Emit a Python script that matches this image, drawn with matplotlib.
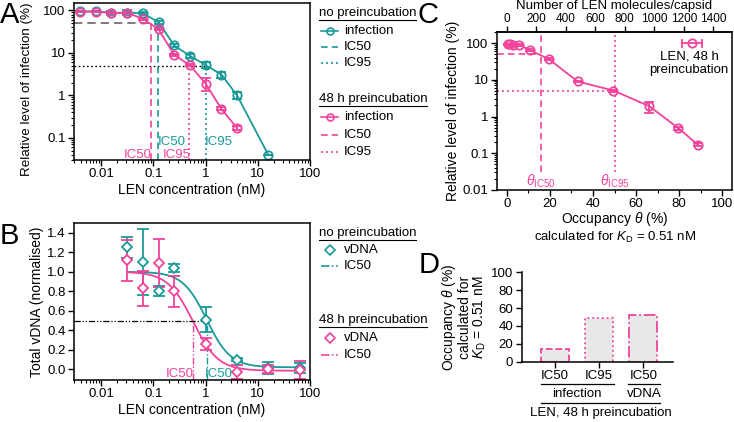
import matplotlib
matplotlib.use('Agg')
import matplotlib.pyplot as plt
import numpy as np
from matplotlib.ticker import LogLocator, NullFormatter, MultipleLocator
import matplotlib.transforms as mtrans

plt.rcParams['font.family'] = ['Liberation Sans', 'DejaVu Sans']
plt.rcParams['mathtext.fontset'] = 'custom'
plt.rcParams['mathtext.rm'] = 'Liberation Sans'
plt.rcParams['mathtext.it'] = 'Liberation Sans:italic'
plt.rcParams['font.size'] = 9.5
plt.rcParams['axes.linewidth'] = 1.1

teal = '#1a9a9a'
pink = '#f2439b'
FS = 9.5      # ticks / legends
FL = 10       # axis labels

# ---- A: infection vs LEN concentration
conc_none = [0.0039, 0.0078, 0.0156, 0.03125, 0.0625, 0.125, 0.25, 0.5, 1, 2, 4, 16]
inf_none = [95, 95, 88, 89, 86, 53, 15, 8.5, 5.2, 3.1, 1.0, 0.039]
inf_none_err = [4, 4, 9, 11, 5, 5, 1.5, 1.0, 0.8, 0.5, 0.2, 0.0]
conc_pre = [0.0039, 0.0078, 0.0156, 0.03125, 0.0625, 0.125, 0.25, 0.5, 1, 2, 4]
inf_pre = [94, 94, 87, 88, 64, 36, 9, 5.1, 1.9, 0.48, 0.17]
inf_pre_err = [3, 3, 4, 4, 3, 2, 0.5, 0.3, 0.65, 0.04, 0.015]
ic50_none, ic95_none = 0.122, 1.0
ic50_pre, ic95_pre = 0.091, 0.485

# ---- B: total vDNA
conc_vdna = [0.03125, 0.0625, 0.125, 0.25, 1, 4, 16, 64]
vdna_none = [1.25, 1.10, 0.80, 1.04, 0.51, 0.10, 0.01, 0.01]
vdna_none_err = [0.11, 0.34, 0.05, 0.04, 0.13, 0.02, 0.06, 0.05]
vdna_pre = [1.12, 0.83, 1.09, 0.80, 0.26, -0.03, 0.0, -0.01]
vdna_pre_err = [0.21, 0.18, 0.25, 0.16, 0.06, 0.07, 0.04, 0.09]
# fitted dose-response parameters (top, bottom, IC50, hill)
fit_none = (1.0, 0.02, 1.045, 1.9)
fit_pre = (1.0, -0.015, 0.57, 1.8)

# ---- C: occupancy
KD = 0.51
capsid_sites = 1460
theta_ic50, theta_ic95 = 15.7, 50.3

# ---- D: occupancy at ICs
d_labels = ['IC50', 'IC95', 'IC50']
d_values = [14, 48.5, 52]
d_styles = ['--', ':', '-.']

W, H = 734, 422
fig = plt.figure(figsize=(W / 100, H / 100), dpi=100)


def px_axes(x0, y0, x1, y1):
    return fig.add_axes([x0 / W, 1 - y1 / H, (x1 - x0) / W, (y1 - y0) / H])


def log_ticks(ax, axis='both'):
    if axis in ('x', 'both'):
        ax.xaxis.set_major_locator(LogLocator(base=10, numticks=20))
        ax.xaxis.set_minor_locator(LogLocator(base=10, subs=np.arange(2, 10), numticks=20))
        ax.xaxis.set_minor_formatter(NullFormatter())
    if axis in ('y', 'both'):
        ax.yaxis.set_major_locator(LogLocator(base=10, numticks=20))
        ax.yaxis.set_minor_locator(LogLocator(base=10, subs=np.arange(2, 10), numticks=20))
        ax.yaxis.set_minor_formatter(NullFormatter())


def fmt_num(v, pos=None):
    return ('%g' % v)


def style(ax):
    ax.tick_params(which='major', length=4, width=1.0, direction='out', pad=2, labelsize=FS)
    ax.tick_params(which='minor', length=2.3, width=0.8, direction='out')


# ================= A
axA = px_axes(74, 3, 310, 160)
axA.set_xscale('log')
axA.set_yscale('log')
axA.set_xlim(0.003, 100)
axA.set_ylim(0.03, 150)
log_ticks(axA)
axA.xaxis.set_major_formatter(plt.FuncFormatter(fmt_num))
axA.yaxis.set_major_formatter(plt.FuncFormatter(fmt_num))
axA.set_yticks([0.1, 1, 10, 100])
style(axA)

axA.plot([0.003, ic50_pre], [50, 50], color='#666666', lw=1.2, dashes=(5, 3))
axA.plot([0.003, ic95_none], [5, 5], color='black', lw=1.0, dashes=(1.2, 1.8))
axA.plot([ic50_none, ic50_none], [0.03, 50], color=teal, lw=1.2, dashes=(4, 2.5))
axA.plot([ic95_none, ic95_none], [0.03, 5], color=teal, lw=1.2, dashes=(1.2, 1.8))
axA.plot([ic50_pre, ic50_pre], [0.03, 50], color=pink, lw=1.2, dashes=(4, 2.5))
axA.plot([ic95_pre, ic95_pre], [0.03, 5], color=pink, lw=1.2, dashes=(1.2, 1.8))

for c, v, e, col in [(conc_none, inf_none, inf_none_err, teal), (conc_pre, inf_pre, inf_pre_err, pink)]:
    axA.errorbar(c, v, yerr=e, color=col, lw=1.3, marker='o', ms=6, mfc='none', mew=1.3,
                 capsize=3.5, capthick=1.3, elinewidth=1.3)

axA.text(ic50_none * 1.0, 0.079, 'IC50', color=teal, ha='left', va='center', fontsize=FS)
axA.text(ic95_none * 0.97, 0.079, 'IC95', color=teal, ha='left', va='center', fontsize=FS)
axA.text(ic50_pre * 1.0, 0.040, 'IC50', color=pink, ha='right', va='center', fontsize=FS)
axA.text(ic95_pre * 1.07, 0.040, 'IC95', color=pink, ha='right', va='center', fontsize=FS)
axA.set_xlabel('LEN concentration (nM)', fontsize=FL, labelpad=2)
axA.set_ylabel('Relative level of infection (%)', fontsize=9.6, labelpad=2)
axA.yaxis.set_label_coords(-0.175, 0.45)

# ================= B
axB = px_axes(74, 223, 310, 380)
axB.set_xscale('log')
axB.set_xlim(0.003, 100)
axB.set_ylim(-0.11, 1.5)
log_ticks(axB, 'x')
axB.xaxis.set_major_formatter(plt.FuncFormatter(fmt_num))
axB.set_yticks(np.arange(0, 1.41, 0.2))
axB.yaxis.set_major_formatter(plt.FuncFormatter(lambda v, p: '%.1f' % v))
style(axB)

xfit = np.logspace(np.log10(conc_vdna[0]), np.log10(conc_vdna[-1]), 300)
for p, col in [(fit_none, teal), (fit_pre, pink)]:
    top, bot, ic, h = p
    axB.plot(xfit, bot + (top - bot) / (1 + (xfit / ic) ** h), color=col, lw=1.3)

dd = (5, 1.5, 1, 1.5, 1, 1.5)
axB.plot([0.003, fit_none[2]], [0.5, 0.5], color='black', lw=0.9, dashes=dd)
axB.plot([fit_none[2], fit_none[2]], [-0.11, 0.5], color=teal, lw=1.0, dashes=dd)
axB.plot([fit_pre[2], fit_pre[2]], [-0.11, 0.5], color=pink, lw=1.0, dashes=dd)

for v, e, col in [(vdna_none, vdna_none_err, teal), (vdna_pre, vdna_pre_err, pink)]:
    axB.errorbar(conc_vdna, v, yerr=e, color=col, ls='none', marker='D', ms=5.5, mfc='white',
                 mew=1.3, capsize=4, capthick=1.3, elinewidth=1.3)

axB.text(fit_pre[2] * 1.05, -0.045, 'IC50', color=pink, ha='right', va='center', fontsize=FS)
axB.text(fit_none[2] * 0.93, -0.045, 'IC50', color=teal, ha='left', va='center', fontsize=FS)
axB.set_xlabel('LEN concentration (nM)', fontsize=FL, labelpad=2)
axB.set_ylabel('Total vDNA (normalised)', fontsize=FL, labelpad=2)

# ================= C
axC = px_axes(497, 32, 732, 190)
occupancy = [100 * c / (c + KD) for c in conc_pre]
axC.set_yscale('log')
axC.set_xlim(-4.5, 104.5)
axC.set_ylim(0.01, 200)
log_ticks(axC, 'y')
axC.yaxis.set_major_formatter(plt.FuncFormatter(fmt_num))
axC.set_yticks([0.01, 0.1, 1, 10, 100])
axC.xaxis.set_major_locator(MultipleLocator(20))
axC.xaxis.set_minor_locator(MultipleLocator(10))
style(axC)

axC.plot([-4.5, theta_ic50], [50, 50], color=pink, lw=1.2, dashes=(4, 2.5))
axC.plot([theta_ic50, theta_ic50], [0.03, 200], color=pink, lw=1.2, dashes=(4, 2.5))
axC.plot([-4.5, theta_ic95], [5, 5], color=pink, lw=1.2, dashes=(1.2, 1.8))
axC.plot([theta_ic95, theta_ic95], [0.03, 200], color=pink, lw=1.2, dashes=(1.2, 1.8))
axC.errorbar(occupancy, inf_pre, yerr=inf_pre_err, color=pink, lw=1.3, marker='o', ms=6,
             mfc='none', mew=1.3, capsize=3.5, capthick=1.3, elinewidth=1.3)
axC.text(theta_ic50, 0.017, r'$\theta_{\mathrm{IC50}}$', color=pink, ha='center', va='center', fontsize=10)
axC.text(theta_ic95, 0.017, r'$\theta_{\mathrm{IC95}}$', color=pink, ha='center', va='center', fontsize=10)
axC.set_xlabel(r'Occupancy $\theta$ (%)', fontsize=FL, labelpad=0)
axC.set_ylabel('Relative level of infection (%)', fontsize=FL, labelpad=2)

secC = axC.secondary_xaxis('top', functions=(lambda t: t * capsid_sites / 100,
                                              lambda n: n * 100 / capsid_sites))
secC.set_xticks(np.arange(0, 1401, 200))
secC.tick_params(length=4, width=1.0, pad=1, labelsize=8.5)

# ================= D
axD = px_axes(521.7, 272.3, 673.3, 361.7)
xpos = np.arange(len(d_values))
for xp, v, ls in zip(xpos, d_values, d_styles):
    axD.bar(xp, v, width=0.63, color='#e8e8e8', edgecolor=pink, linewidth=1.3, linestyle=ls)
axD.set_xlim(-0.753, 2.68)
axD.set_ylim(0, 100)
axD.set_yticks(np.arange(0, 101, 20))
axD.set_xticks(xpos)
axD.set_xticklabels(d_labels)
axD.spines['top'].set_visible(False)
axD.spines['right'].set_visible(False)
style(axD)
axD.set_ylabel('Occupancy $\\theta$ (%)\ncalculated for\n$K_\\mathrm{D}$ = 0.51 nM', fontsize=FL,
               linespacing=1.0, labelpad=2)

bt = mtrans.blended_transform_factory(axD.transData, axD.transAxes)
for x0, x1, y, lab in [(-0.32, 1.33, -0.25, 'infection'), (1.66, 2.39, -0.25, 'vDNA'),
                       (-0.32, 2.39, -0.46, 'LEN, 48 h preincubation')]:
    axD.plot([x0, x1], [y, y], color='black', lw=0.9, transform=bt, clip_on=False)
    axD.text((x0 + x1) / 2, y - 0.11, lab, transform=bt, ha='center', va='center', fontsize=FS)

# ================= overlay: panel letters, legends, extra text
ov = fig.add_axes([0, 0, 1, 1], zorder=10)
ov.set_xlim(0, W)
ov.set_ylim(H, 0)
ov.axis('off')

for lx, ly, lab in [(10, 15, 'A'), (9, 236, 'B'), (428, 15, 'C'), (429, 265, 'D')]:
    ov.text(lx, ly, lab, fontsize=21, ha='center', va='center')

ov.text(614, 6.5, 'Number of LEN molecules/capsid', fontsize=9.5, ha='center', va='center')
ov.text(615, 237, 'calculated for $K_\\mathrm{D}$ = 0.51 nM', fontsize=FS, ha='center', va='center')

renderer = fig.canvas.get_renderer()


def legend_title(x, y, s):
    t = ov.text(x, y, s, fontsize=FS, ha='left', va='center')
    bb = t.get_window_extent(renderer)
    ov.plot([bb.x0, bb.x1], [y + 7, y + 7], color='black', lw=0.8)


def legend_row(y, col, label, marker=None, dashes=None, line=True):
    if line:
        kw = {'dashes': dashes} if dashes else {}
        ov.plot([321, 338], [y, y], color=col, lw=1.2, **kw)
    if marker:
        ov.plot([329.5], [y], marker=marker, color=col, ms=5 if marker == 'o' else 5.5,
                mfc='none' if marker == 'o' else 'white', mew=1.2)
    ov.text(344, y, label, fontsize=FS, ha='left', va='center')


legend_title(318.7, 13, 'no preincubation')
legend_row(30.7, teal, 'infection', marker='o')
legend_row(46.7, teal, 'IC50', dashes=(4, 2.5))
legend_row(62.7, teal, 'IC95', dashes=(1.2, 1.8))
legend_title(318.7, 99.3, '48 h preincubation')
legend_row(117.3, pink, 'infection', marker='o')
legend_row(135.3, pink, 'IC50', dashes=(4, 2.5))
legend_row(151.7, pink, 'IC95', dashes=(1.2, 1.8))

legend_title(318.7, 233.3, 'no preincubation')
legend_row(250, teal, 'vDNA', marker='D', line=False)
legend_row(266, teal, 'IC50', dashes=dd)
legend_title(318.7, 320, '48 h preincubation')
legend_row(338.3, pink, 'vDNA', marker='D', line=False)
legend_row(355, pink, 'IC50', dashes=dd)

# C legend
ov.plot([681.7, 701.7], [43.3, 43.3], color=pink, lw=1.3)
ov.plot([681.7, 681.7], [40, 46.6], color=pink, lw=1.3)
ov.plot([701.7, 701.7], [40, 46.6], color=pink, lw=1.3)
ov.plot([691.7], [43.3], marker='o', color=pink, ms=6, mfc='none', mew=1.3)
ov.text(689, 63.5, 'LEN, 48 h\npreincubation', fontsize=FS, ha='center', va='center', linespacing=1.15)

fig.savefig('out.png', dpi=100)
